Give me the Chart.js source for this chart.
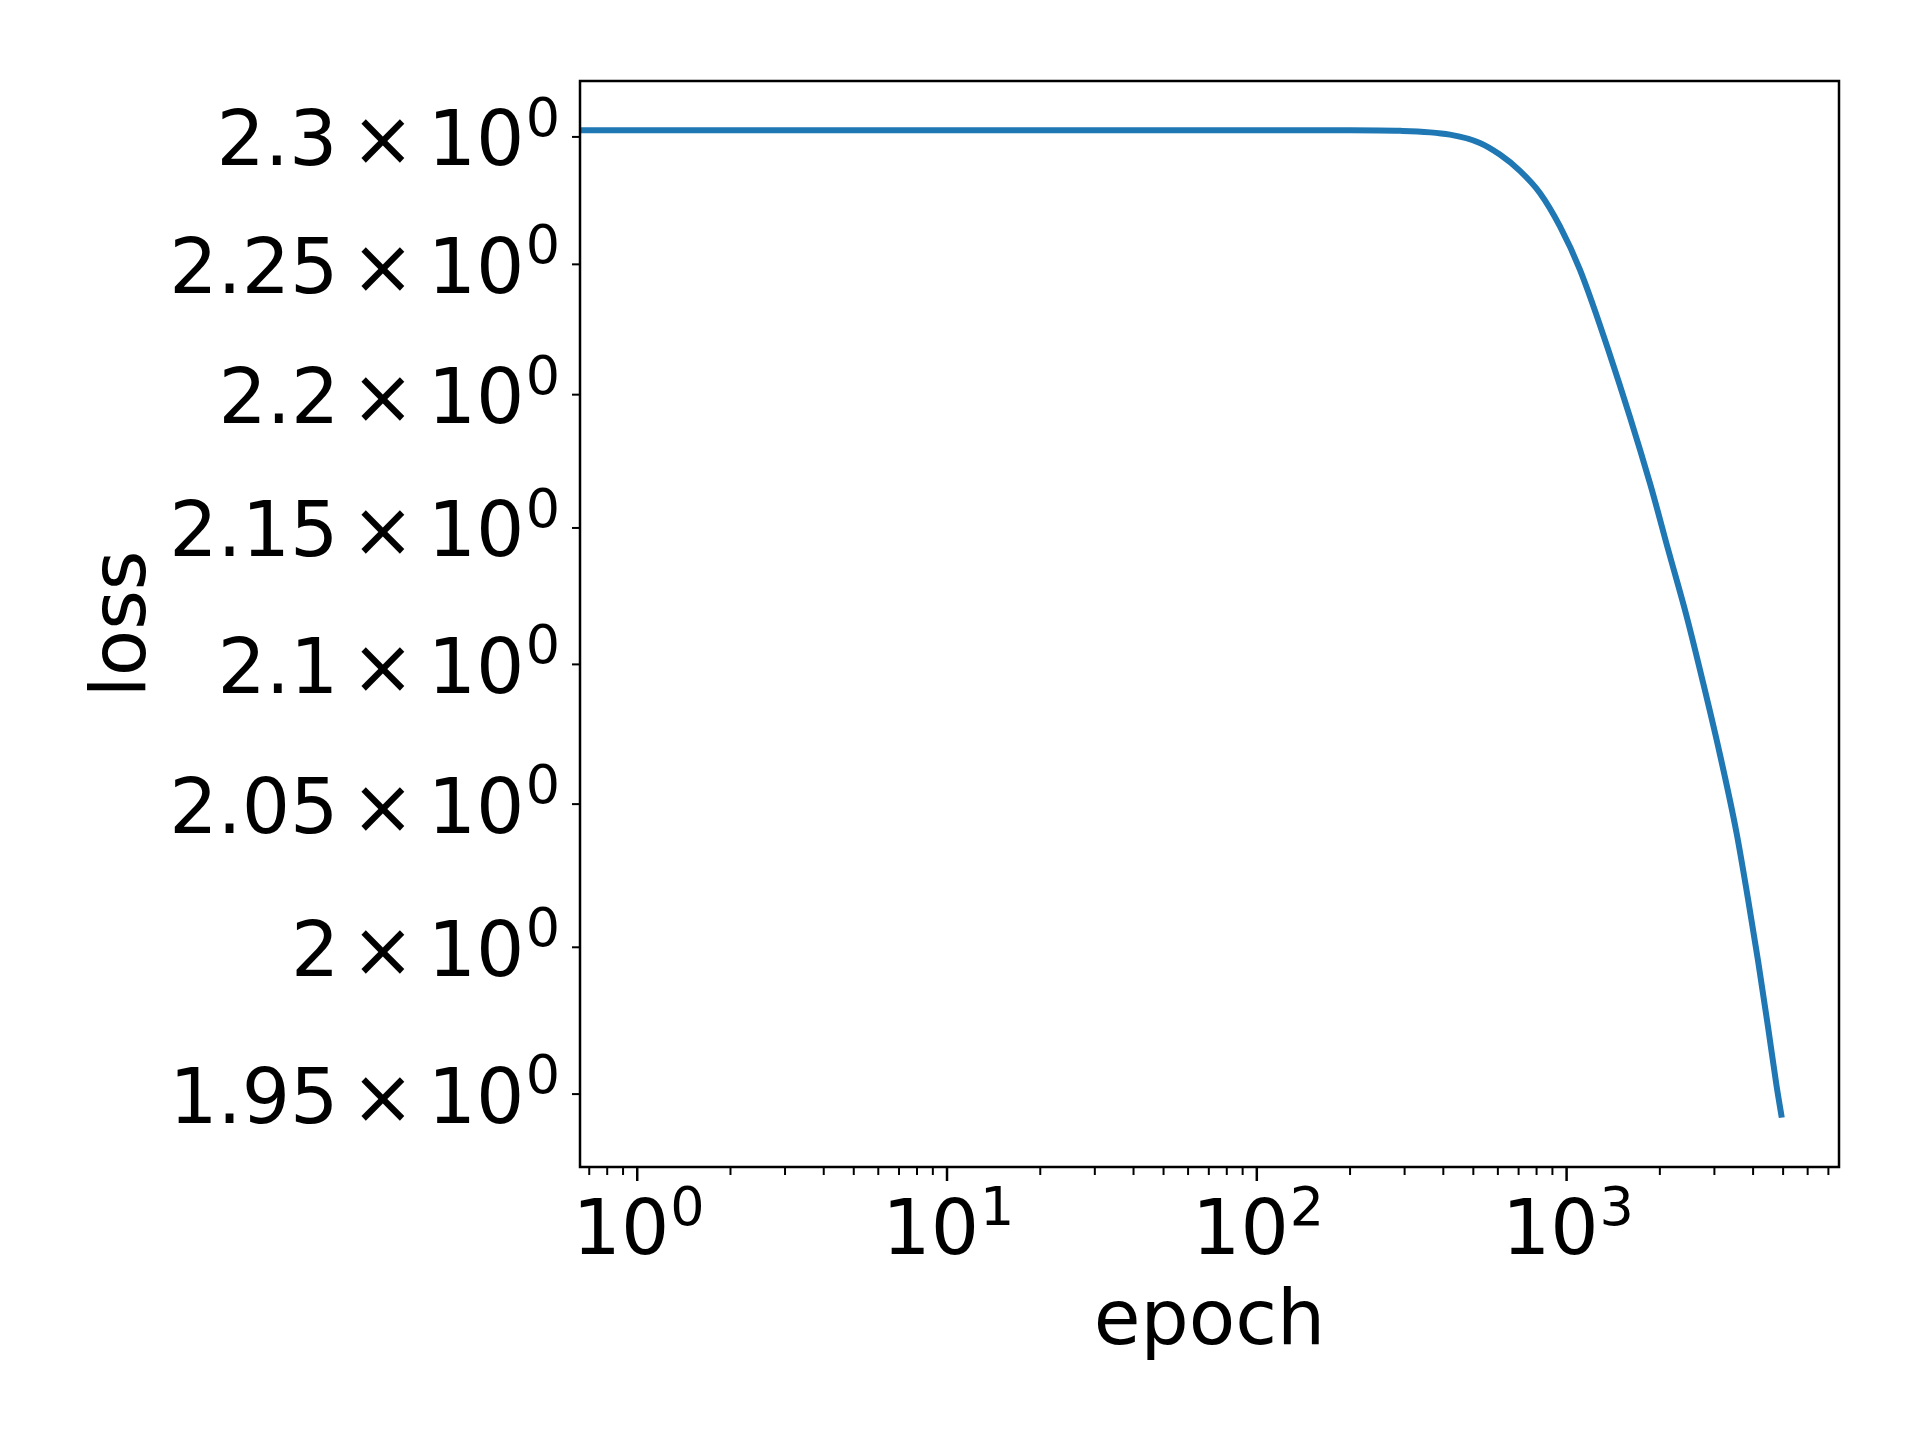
<!DOCTYPE html>
<html>
<head>
<meta charset="utf-8">
<script src="https://cdn.jsdelivr.net/npm/chart.js@4/dist/chart.umd.min.js"></script>
<style>
html, body { margin: 0; padding: 0; background: #ffffff; }
#wrap { width: 1920px; height: 1440px; }
</style>
</head>
<body>
<div id="wrap"><canvas id="c" width="1920" height="1440"></canvas></div>
<script>
// ---- data (epoch 0 is clipped to the left edge on the log axis) ----
const epochs = [0, 1, 10, 100, 138, 200, 290, 420, 525, 609, 707, 820, 952, 1104, 1362, 1857, 2127, 2439, 2758, 3083, 3535, 3853, 4151, 4471, 4758, 4950];
const loss   = [2.3026, 2.3026, 2.3026, 2.3026, 2.3026, 2.3026, 2.3024, 2.3009, 2.2976, 2.2930, 2.2866, 2.2779, 2.2648, 2.2480, 2.2172, 2.1668, 2.1420, 2.1176, 2.0934, 2.0706, 2.0400, 2.0166, 1.9953, 1.9726, 1.9530, 1.9421];

// ---- tick values and labels ----
const xMajorTicks = [1, 10, 100, 1000];
const xTickBase = ['10', '10', '10', '10'];
const xTickExp  = ['0', '1', '2', '3'];
const yTicks = [1.95, 2, 2.05, 2.1, 2.15, 2.2, 2.25, 2.3];
const yTickMantissa = ['1.95', '2', '2.05', '2.1', '2.15', '2.2', '2.25', '2.3'];
const yTickExp = '0';

// ---- axis limits: 5% margins in log space (matplotlib style), positive values only ----
function logLimits(arr) {
  const pos = arr.filter(v => v > 0);
  const lo = Math.log10(Math.min(...pos)), hi = Math.log10(Math.max(...pos));
  const m = 0.05 * (hi - lo);
  return [Math.pow(10, lo - m), Math.pow(10, hi + m)];
}
const [xMin, xMax] = logLimits(epochs);
const [yMin, yMax] = logLimits(loss);

// all log tick positions (major + minor) inside the x range
const xTickValues = [];
for (let d = -1; d <= 4; d++) {
  for (let m = 1; m <= 9; m++) {
    const v = m * Math.pow(10, d);
    if (v >= xMin && v <= xMax) xTickValues.push(d >= 0 ? Math.round(v) : v);
  }
}

const FAMILY = "'DejaVu Sans', sans-serif";
Chart.defaults.font.family = FAMILY;
Chart.defaults.color = '#000000';

const FONT = 76;
const SUP = 54;
const BASE_FONT = FONT + 'px ' + FAMILY;
const SUP_FONT = SUP + 'px ' + FAMILY;

// draw text so that its ink right edge lands on xr
function fillInkRight(ctx, text, xr, y) {
  const m = ctx.measureText(text);
  ctx.fillText(text, xr - m.actualBoundingBoxRight, y);
}
// draw text so that its ink left edge lands on xl
function fillInkLeft(ctx, text, xl, y) {
  const m = ctx.measureText(text);
  ctx.fillText(text, xl + m.actualBoundingBoxLeft, y);
}

const frameTicksLabels = {
  id: 'frameTicksLabels',
  afterDatasetsDraw(chart) {
    const { ctx, chartArea: a, scales: { x, y } } = chart;
    ctx.save();
    ctx.strokeStyle = '#000000';
    ctx.fillStyle = '#000000';
    ctx.lineCap = 'butt';
    // x tick marks
    x.ticks.forEach(t => {
      const major = xMajorTicks.includes(t.value);
      const px = x.getPixelForValue(t.value);
      ctx.lineWidth = major ? 2.5 : 2;
      ctx.beginPath();
      ctx.moveTo(px, a.bottom);
      ctx.lineTo(px, a.bottom + (major ? 14 : 8));
      ctx.stroke();
    });
    // y tick marks
    y.ticks.forEach(t => {
      const py = y.getPixelForValue(t.value);
      ctx.lineWidth = 2;
      ctx.beginPath();
      ctx.moveTo(a.left, py);
      ctx.lineTo(a.left - 8, py);
      ctx.stroke();
    });
    // frame
    ctx.lineWidth = 2.5;
    ctx.strokeRect(a.left, a.top, a.right - a.left, a.bottom - a.top);

    // tick labels with real superscripts
    ctx.textBaseline = 'alphabetic';
    ctx.textAlign = 'left';
    xMajorTicks.forEach((v, i) => {
      const px = x.getPixelForValue(v);
      ctx.font = BASE_FONT;
      fillInkLeft(ctx, xTickBase[i], px - 56.7, a.bottom + 87);
      ctx.font = SUP_FONT;
      ctx.fillText(xTickExp[i], px + 33, a.bottom + 58);
    });
    yTicks.forEach((v, i) => {
      const py = y.getPixelForValue(v);
      const by = py + 28.5;
      ctx.font = BASE_FONT;
      fillInkRight(ctx, yTickMantissa[i], a.left - 248, by);
      fillInkRight(ctx, '\u00D7', a.left - 175, by);
      fillInkRight(ctx, '10', a.left - 60, by);
      ctx.font = SUP_FONT;
      fillInkRight(ctx, yTickExp, a.left - 23.3, py - 1);
    });
    ctx.restore();
  }
};

new Chart(document.getElementById('c').getContext('2d'), {
  type: 'line',
  data: {
    datasets: [{
      data: epochs.map((e, i) => ({ x: e > 0 ? e : xMin, y: loss[i] })),
      borderColor: '#1f77b4',
      borderWidth: 6,
      pointRadius: 0,
      fill: false,
      cubicInterpolationMode: 'monotone'
    }]
  },
  options: {
    responsive: false,
    animation: false,
    devicePixelRatio: 1,
    layout: { padding: { top: 81, right: 81, left: 0, bottom: 0 } },
    plugins: { legend: { display: false }, tooltip: { enabled: false } },
    scales: {
      x: {
        type: 'logarithmic',
        position: 'bottom',
        min: xMin,
        max: xMax,
        afterBuildTicks: s => { s.ticks = xTickValues.map(v => ({ value: v })); },
        afterFit: s => { s.height = 273; },
        grid: { display: false, drawTicks: true, tickLength: 14 },
        border: { display: false },
        ticks: { display: false, autoSkip: false, maxRotation: 0, minRotation: 0 },
        title: { display: true, text: 'epoch', color: '#000000', font: { size: FONT }, padding: { top: 0, bottom: 70 } }
      },
      y: {
        type: 'logarithmic',
        position: 'left',
        min: yMin,
        max: yMax,
        afterBuildTicks: s => { s.ticks = yTicks.map(v => ({ value: v })); },
        afterFit: s => { s.width = 580; },
        grid: { display: false, drawTicks: true, tickLength: 8 },
        border: { display: false },
        ticks: { display: false, autoSkip: false },
        title: { display: true, text: 'loss', color: '#000000', font: { size: FONT }, padding: { top: 80, bottom: 0 } }
      }
    }
  },
  plugins: [frameTicksLabels]
});
</script>
</body>
</html>
